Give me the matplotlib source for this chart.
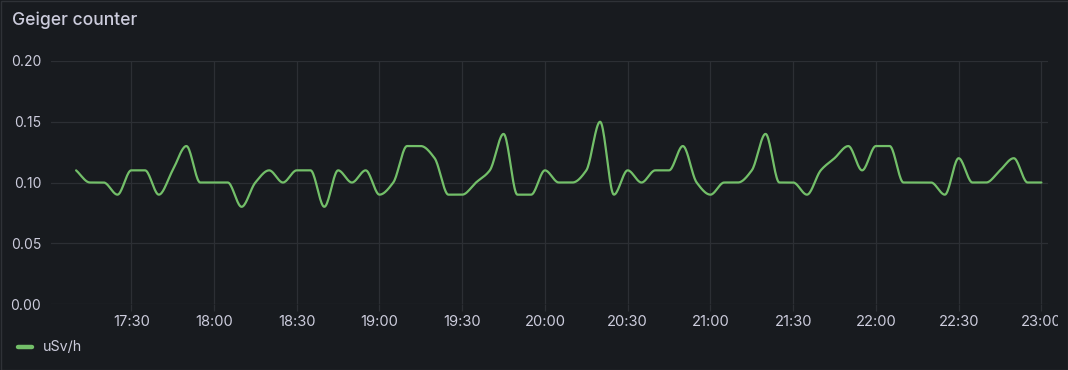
import numpy as np
import matplotlib
matplotlib.use("Agg")
import matplotlib.pyplot as plt
from matplotlib.patches import Rectangle

# ---- data ----
start_minute = 10          # minutes after 17:00 of first sample
step_minutes = 5
usv_h = [0.11, 0.10, 0.10, 0.09, 0.11, 0.11, 0.09, 0.11, 0.13, 0.10,
         0.10, 0.10, 0.08, 0.10, 0.11, 0.10, 0.11, 0.11, 0.08, 0.11,
         0.10, 0.11, 0.09, 0.10, 0.13, 0.13, 0.12, 0.09, 0.09, 0.10,
         0.11, 0.14, 0.09, 0.09, 0.11, 0.10, 0.10, 0.11, 0.15, 0.09,
         0.11, 0.10, 0.11, 0.11, 0.13, 0.10, 0.09, 0.10, 0.10, 0.11,
         0.14, 0.10, 0.10, 0.09, 0.11, 0.12, 0.13, 0.11, 0.13, 0.13,
         0.10, 0.10, 0.10, 0.09, 0.12, 0.10, 0.10, 0.11, 0.12, 0.10,
         0.10]
x_tick_labels = ["17:30", "18:00", "18:30", "19:00", "19:30", "20:00",
                 "20:30", "21:00", "21:30", "22:00", "22:30", "23:00"]
y_ticks = [0.00, 0.05, 0.10, 0.15, 0.20]
series_name = "uSv/h"
title = "Geiger counter"

# ---- styling ----
BG = "#181b1f"
TEXT = "#ccccdc"
GRID = "#2c2f34"
GREEN = "#73bf69"
FONT = ["Inter", "DejaVu Sans"]

x = start_minute + step_minutes * np.arange(len(usv_h))
y = np.array(usv_h)


def monotone_cubic(xs, ys, n=20):
    xs = np.asarray(xs, float)
    ys = np.asarray(ys, float)
    h = np.diff(xs)
    d = np.diff(ys) / h
    m = np.zeros_like(ys)
    m[0], m[-1] = d[0], d[-1]
    for i in range(1, len(ys) - 1):
        if d[i - 1] * d[i] <= 0:
            m[i] = 0.0
        else:
            w1 = 2 * h[i] + h[i - 1]
            w2 = h[i] + 2 * h[i - 1]
            m[i] = (w1 + w2) / (w1 / d[i - 1] + w2 / d[i])
    px, py = [], []
    for i in range(len(xs) - 1):
        t = np.linspace(0, 1, n, endpoint=False)
        h00 = 2 * t**3 - 3 * t**2 + 1
        h10 = t**3 - 2 * t**2 + t
        h01 = -2 * t**3 + 3 * t**2
        h11 = t**3 - t**2
        px.append(xs[i] + t * h[i])
        py.append(h00 * ys[i] + h10 * h[i] * m[i] + h01 * ys[i + 1] + h11 * h[i] * m[i + 1])
    px.append([xs[-1]])
    py.append([ys[-1]])
    return np.concatenate(px), np.concatenate(py)


sx, sy = monotone_cubic(x, y)

fig = plt.figure(figsize=(10.68, 3.70), dpi=100, facecolor=BG)
ax = fig.add_axes([51 / 1068, 66 / 370, 997 / 1068, 243 / 370])
ax.set_facecolor(BG)

ax.plot(sx, sy, color=GREEN, lw=1.6, solid_capstyle="round", solid_joinstyle="round")

ax.set_xlim(0.9, 362.4)
ax.set_ylim(0, 0.2)
xt = 30 * np.arange(1, len(x_tick_labels) + 1)
ax.set_xticks(xt)
ax.set_xticklabels(x_tick_labels)
ax.set_yticks(y_ticks)
ax.set_yticklabels([f"{v:.2f}" for v in y_ticks])
ax.grid(True, color=GRID, lw=0.9)
ax.set_axisbelow(True)
for s in ax.spines.values():
    s.set_visible(False)
ax.tick_params(axis="x", colors=GRID, length=5, width=0.9, pad=3, labelcolor=TEXT, labelsize=10.6)
ax.tick_params(axis="y", length=0, pad=7, labelcolor=TEXT, labelsize=10)
for lab in ax.get_xticklabels() + ax.get_yticklabels():
    lab.set_family(FONT)

# clip last x label at the panel edge like the reference
clip_rect = Rectangle((0, 0), 1058 / 1068, 1, transform=fig.transFigure, visible=False)
fig.add_artist(clip_rect)
for lab in ax.get_xticklabels():
    lab.set_clip_path(clip_rect)
    lab.set_clip_on(True)

fig.text(12 / 1068, 1 - 20 / 370, title, color=TEXT, fontsize=12.6, family=FONT,
         fontweight="medium", va="center", ha="left")

# legend
fig.add_artist(plt.Line2D([18 / 1068, 32 / 1068], [1 - 346.5 / 370] * 2, color=GREEN,
                          lw=3.2, solid_capstyle="round", transform=fig.transFigure))
fig.text(43 / 1068, 1 - 347 / 370, series_name, color=TEXT, fontsize=10.3, family=FONT,
         va="center", ha="left")

# panel border
fig.add_artist(Rectangle((0.5 / 1068, 0.5 / 370), 1 - 1 / 1068, 1 - 1 / 370,
                         transform=fig.transFigure, fill=False, ec="#2f3237", lw=1))

fig.savefig("out.png", dpi=100, facecolor=BG)
